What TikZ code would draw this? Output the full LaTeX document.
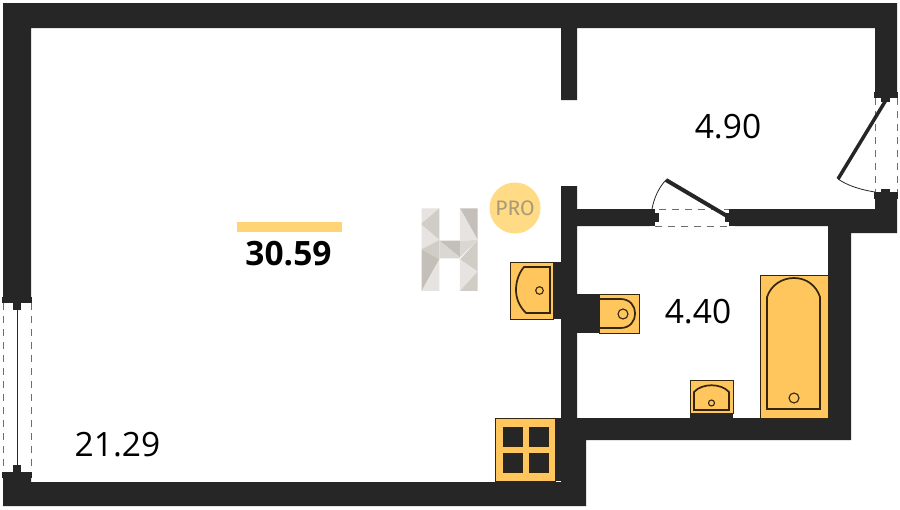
\documentclass[tikz,border=0pt]{standalone}
\usepackage{fontspec}
\setmainfont{Open Sans}
\newfontfamily\profont{Fira Sans}
\definecolor{wall}{HTML}{262626}
\definecolor{fix}{HTML}{FFC65E}
\definecolor{fixline}{HTML}{33250E}
\definecolor{band}{HTML}{FFD475}
\definecolor{badge}{HTML}{FFDB85}
\definecolor{protext}{HTML}{A89A78}
\definecolor{dash}{HTML}{6E6E6E}
\definecolor{la}{HTML}{E6E3E0}
\definecolor{lb}{HTML}{DAD6D2}
\definecolor{lc}{HTML}{D0CCC6}
\definecolor{ld}{HTML}{C4BFB8}
\tikzset{
  wallfill/.style={fill=wall,draw=none},
  fixture/.style={fill=fix,draw=fixline,line width=0.7pt},
  inner line/.style={draw=fixline,line width=1.7pt},
  leaf/.style={draw=wall,line cap=butt},
  swing/.style={draw=wall,line width=0.8pt},
  opening/.style={draw=dash,line width=1pt,dash pattern=on 7pt off 6pt},
  area/.style={font=\fontsize{33.5}{36}\selectfont,text=black,inner sep=0pt}
}
\begin{document}
\begin{tikzpicture}[x=1pt,y=-1pt]
\useasboundingbox[fill=white] (0,0) rectangle (900,509);
% logo
\begin{scope}[shift={(400,180)},x=0.3333pt,y=-0.3333pt]
\fill[la] (65,85)--(118,85)--(65,130)--cycle;
\fill[lc] (118,85)--(118,180)--(65,135)--(65,130)--cycle;
\fill[la] (65,135)--(118,180)--(65,208)--cycle;
\fill[lc] (65,208)--(118,180)--(118,238)--cycle;
\fill[ld] (65,208)--(118,238)--(65,333)--cycle;
\fill[la] (118,238)--(118,333)--(65,333)--cycle;
\fill[ld] (118,182)--(180,182)--(180,232)--cycle;
\fill[lb] (118,182)--(180,232)--(180,235)--(118,235)--cycle;
\fill[ld] (180,85)--(233,85)--(233,180)--cycle;
\fill[la] (180,85)--(233,180)--(180,182)--cycle;
\fill[lc] (233,180)--(233,275)--(180,238)--cycle;
\fill[lb] (180,232)--(233,180)--(180,182)--cycle;
\fill[la] (180,238)--(233,275)--(180,333)--cycle;
\fill[lc] (233,275)--(233,333)--(180,333)--cycle;
\end{scope}
\node[circle,fill=badge,minimum size=51pt,inner sep=0pt] (pro) at (515,208) {};
\node[text=protext,font=\profont\fontsize{21}{22}\selectfont,inner sep=0pt] (protxt) at (515,208) {PRO};
% walls
\fill[wallfill] (3,3)--(897,3)--(897,93)--(875,93)--(875,28)--(577,28)--(577,100)--(561,100)--(561,28)--(31,28)--(31,298)--(3,298)--cycle;
\fill[wallfill] (3,478)--(31,478)--(31,482)--(561,482)--(561,186)--(577,186)--(577,209)--(650,209)--(650,226)--(577,226)--(577,418)--(828,418)--(828,226)--(735,226)--(735,209)--(875,209)--(875,198)--(897,198)--(897,233)--(851,233)--(851,440)--(586,440)--(586,506)--(3,506)--cycle;
% window
\fill[wallfill] (2,297) rectangle (32,303);
\fill[wallfill] (2,472) rectangle (32,478);
\fill[wallfill] (13,303) rectangle (21,310);
\fill[wallfill] (13,465) rectangle (21,472);
\draw[wall,line width=1pt] (17,310)--(17,465);
\draw[opening] (3,303)--(3,472);
\draw[opening] (31,303)--(31,472);
% entrance door in right wall
\fill[wallfill] (874,92) rectangle (898,98);
\fill[wallfill] (874,192) rectangle (898,199);
\fill[wallfill] (881,98) rectangle (890,102);
\fill[wallfill] (881,189) rectangle (890,192);
\draw[opening] (875,98)--(875,192);
\draw[opening] (897,98)--(897,192);
\coordinate (dra) at (886,100);
\coordinate (drb) at (838,179);
\coordinate (drc) at (875,192);
\draw[leaf,line width=3.5pt] (dra)--(drb);
\draw[swing] (drb) .. controls (848,186) and (862,190) .. (drc);
% bathroom door
\fill[wallfill] (649,209) rectangle (655,226);
\fill[wallfill] (655,213) rectangle (659,222);
\fill[wallfill] (729,209) rectangle (735,226);
\fill[wallfill] (725,213) rectangle (729,222);
\draw[opening] (659,209.5)--(729,209.5);
\draw[opening] (655,226)--(729,226);
\coordinate (dba) at (727,216);
\coordinate (dbb) at (666,180);
\coordinate (dbc) at (652,209);
\draw[leaf,line width=4pt] (dba)--(dbb);
\draw[swing] (dbb) .. controls (659,187) and (654,198) .. (dbc);
% kitchen
\fill[wallfill] (555,418) rectangle (561,481);
\node[fixture,minimum width=60pt,minimum height=63pt,inner sep=0pt,anchor=north west] (stove) at (495,418) {};
\foreach \x in {503.5,529}{\foreach \y in {427,453}{
  \fill[wall,draw=fixline,line width=0.5pt] (\x,\y) rectangle ++(19,19);}}
% wall sink
\fill[wallfill] (553,262) rectangle (561,319);
\node[fixture,minimum width=43pt,minimum height=57pt,inner sep=0pt,anchor=north west] (sinka) at (510,262) {};
\draw[inner line] (550,267)--(524,267) .. controls (518,274) and (516,283) .. (516,290) .. controls (516,298) and (519,306) .. (526,313)--(550,313)--cycle;
\draw[fixline,line width=1.1pt] (539.5,290.5) circle (3.8);
% toilet
\fill[wallfill] (577,294) rectangle (599,333);
\node[fixture,minimum width=40pt,minimum height=39pt,inner sep=0pt,anchor=north west] (wc) at (599,294) {};
\draw[inner line] (599,299)--(620.5,299) .. controls (640,299) and (640,328) .. (620.5,328)--(599,328);
\draw[fixline,line width=1.1pt] (623,314) circle (5);
% small sink
\fill[wall] (690,410) rectangle (733,418);
\node[fixture,minimum width=43pt,minimum height=33pt,inner sep=0pt,anchor=north west] (sinkb) at (690,380) {};
\draw[inner line] (694,410)--(694,392) .. controls (702,383) and (721,383) .. (729,392)--(729,410)--cycle;
\draw[fixline,line width=1.1pt] (711.5,403) circle (3);
% bath
\node[fixture,minimum width=68pt,minimum height=143pt,inner sep=0pt,anchor=north west] (bath) at (760,275) {};
\draw[inner line] (767,409)--(767,297) .. controls (771,285) and (782,278) .. (794,278) .. controls (806,278) and (816,285) .. (820,297)--(820,409)--cycle;
\draw[fixline,line width=1.1pt] (794,398) circle (5);
% labels
\node[fill=band,minimum width=105pt,minimum height=10pt,inner sep=0pt] (bar) at (289.5,227) {};
\node[area,font=\bfseries\fontsize{33.5}{36}\selectfont] (total) at (288.5,254) {30.59};
\node[area] (a1) at (117.5,444.5) {21.29};
\node[area] (a2) at (728,127) {4.90};
\node[area] (a3) at (698,312) {4.40};
\end{tikzpicture}
\end{document}
